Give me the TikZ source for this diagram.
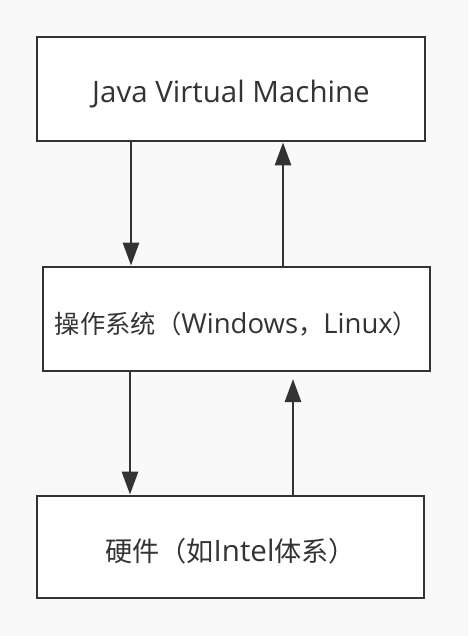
\documentclass[tikz,border=0pt]{standalone}
\usepackage{fontspec}
\setmainfont{Open Sans}
\newfontfamily\cjk{Noto Sans CJK SC}[Scale=0.92]
\usetikzlibrary{arrows.meta}
\definecolor{ink}{HTML}{333333}
\definecolor{bg}{HTML}{F9F9F9}
\tikzset{
  layer/.style={draw=ink, line width=2.8pt, fill=white, rectangle, inner sep=0pt,
    text=ink, font=\fontsize{29.5}{34}\selectfont, text height=28pt, text depth=0pt},
  arr/.style={draw=ink, line width=2.8pt, -{Triangle[length=23pt,width=16pt]}}
}
\begin{document}
\begin{tikzpicture}[x=1pt,y=-1pt]
\fill[bg] (0,0) rectangle (468,636);
\useasboundingbox (0,0) rectangle (468,636);
\node[layer, minimum width=388pt, minimum height=104pt] (jvm) at (231,89) {Java Virtual Machine};
\node[layer, minimum width=387pt, minimum height=104pt, font=\fontsize{27.5}{32}\selectfont] (os) at (236.5,319) {{\cjk 操作系统（}Windows{\cjk ，}Linux{\cjk ）}};
\node[layer, minimum width=387pt, minimum height=102pt] (hw) at (230.5,547) {{\cjk 硬件（如}Intel{\cjk 体系）}};
\coordinate (d1) at (131,0);
\coordinate (u1) at (283,0);
\coordinate (d2) at (130,0);
\coordinate (u2) at (293,0);
\coordinate (u2end) at (293,379);
\draw[arr] (jvm.south -| d1) -- (os.north -| d1);
\draw[arr] (os.north -| u1) -- (jvm.south -| u1);
\draw[arr] (os.south -| d2) -- (hw.north -| d2);
\draw[arr] (hw.north -| u2) -- (u2end);
\end{tikzpicture}
\end{document}
